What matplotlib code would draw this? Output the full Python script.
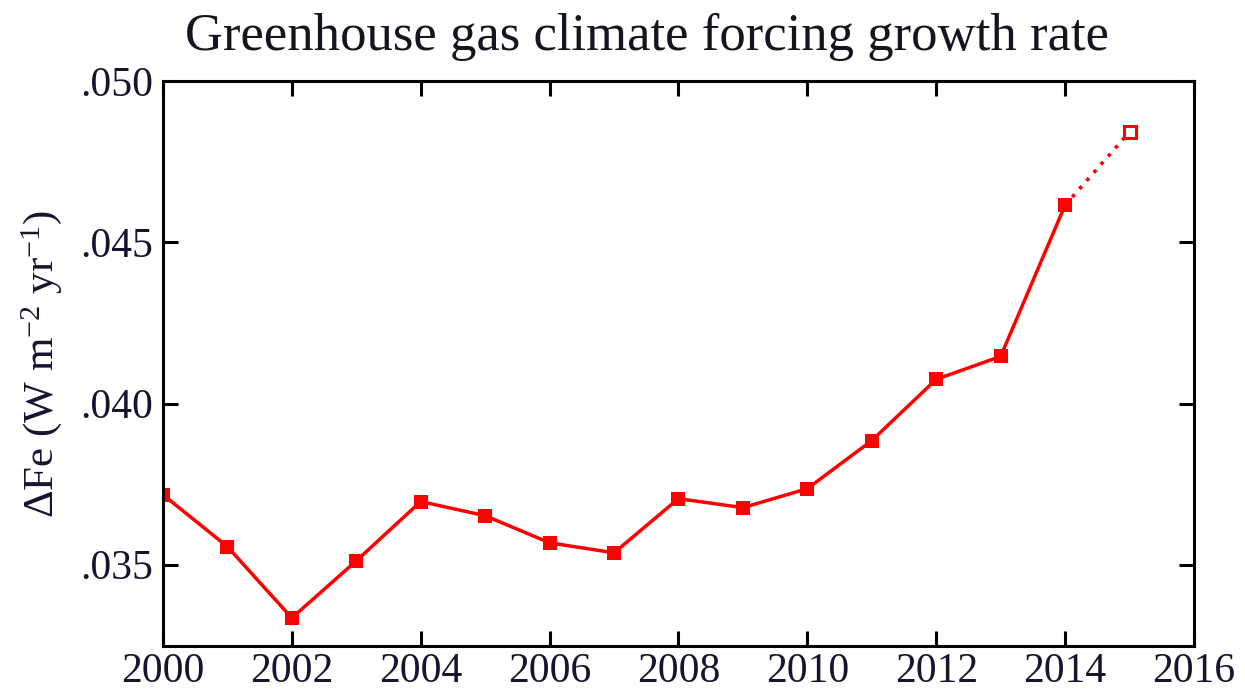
import numpy as np
import matplotlib
matplotlib.use("Agg")
import matplotlib.pyplot as plt
from matplotlib.ticker import FuncFormatter

# jaarlijkse waarden (gemeten)
years = [2000, 2001, 2002, 2003, 2004, 2005, 2006, 2007,
         2008, 2009, 2010, 2011, 2012, 2013, 2014]
dfe = [0.03717, 0.03556, 0.03335, 0.03512, 0.03696, 0.03652, 0.03568, 0.03537,
       0.03705, 0.03677, 0.03736, 0.03885, 0.04075, 0.04146, 0.04615]

# voorlopige waarde 2015 (open symbool)
years_prelim = [2014, 2015]
dfe_prelim = [0.04615, 0.04842]

title = "Greenhouse gas climate forcing growth rate"
ylabel = r"$\Delta$Fe (W m$^{-2}$ yr$^{-1}$)"
xticks = np.arange(2000, 2017, 2)
yticks = [0.035, 0.040, 0.045, 0.050]

plt.rcParams['font.family'] = ['Liberation Serif', 'DejaVu Serif']
plt.rcParams['mathtext.fontset'] = 'custom'
plt.rcParams['mathtext.rm'] = 'Liberation Serif'
plt.rcParams['mathtext.it'] = 'Liberation Serif:italic'

fig = plt.figure(figsize=(12.45, 6.89), dpi=100)
ax = fig.add_axes([0.1309, 0.0624, 0.8281, 0.82])

red = "#ff0000"
ax.plot(years_prelim, dfe_prelim, color=red, lw=2.6, linestyle=(0, (1, 2)))
ax.plot(years, dfe, color=red, lw=2.5, marker="s", markersize=10,
        markeredgewidth=0)
ax.plot(years_prelim[-1:], dfe_prelim[-1:], linestyle="none", marker="s",
        markersize=8.5, markerfacecolor="white", markeredgecolor=red,
        markeredgewidth=2.2)

ax.set_xlim(2000, 2016)
ax.set_ylim(0.03248, 0.050)
ax.set_xticks(xticks)
ax.set_yticks(yticks)
ax.yaxis.set_major_formatter(FuncFormatter(lambda v, p: ("%.3f" % v).lstrip("0")))

ax.tick_params(direction="in", length=11, width=2.2, labelsize=30,
               labelcolor="#151530", top=True, right=True)
ax.tick_params(axis="x", pad=5)
ax.tick_params(axis="y", pad=7)
for s in ax.spines.values():
    s.set_linewidth(2.2)

ax.set_ylabel(ylabel, fontsize=31, labelpad=12, color="#151530")
fig.text(0.52, 0.927, title, fontsize=38, ha="center", va="baseline",
         color="#151520")

fig.savefig("out.png", dpi=100)
